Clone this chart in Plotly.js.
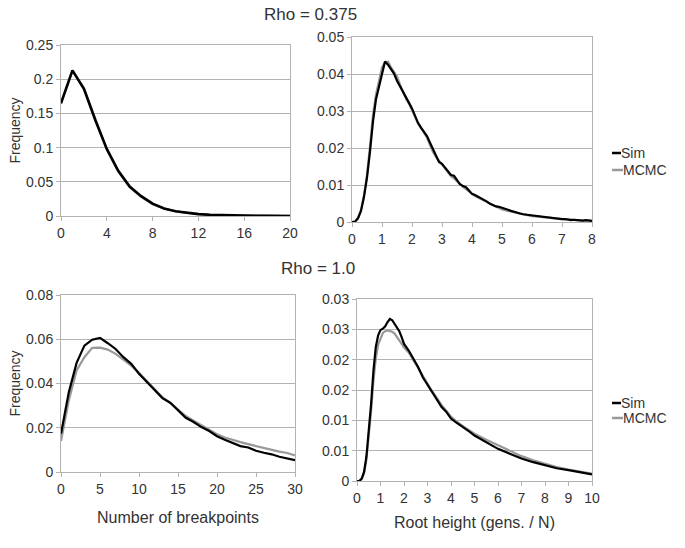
<!DOCTYPE html>
<html>
<head>
<meta charset="utf-8">
<script src="https://cdn.plot.ly/plotly-3.0.1.min.js"></script>
<style>html,body{margin:0;padding:0;background:#fff;}#chart{width:685px;height:548px;}</style>
</head>
<body>
<div id="chart"></div>
<script>
// ---- Rho = 0.375 : number of breakpoints ----
const bp375X = [0,1,2,3,4,5,6,7,8,9,10,11,12,13,14,15,16,17,18,19,20];
const bp375Sim = [0.165,0.213,0.186,0.140,0.098,0.066,0.043,0.029,0.018,0.011,0.007,0.0045,0.0027,0.0018,0.0012,0.0008,0.0004,0.0003,0.0002,0.0002,0.0001];
const bp375Mcmc = [0.164,0.212,0.187,0.141,0.097,0.065,0.042,0.028,0.017,0.011,0.007,0.0044,0.0026,0.0017,0.0011,0.0007,0.0004,0.0003,0.0002,0.0001,0.0001];

// ---- Rho = 0.375 : root height ----
const rh375X = [0,0.1,0.2,0.3,0.4,0.5,0.6,0.7,0.8,0.9,1.0,1.1,1.2,1.3,1.4,1.5,1.6,1.7,1.8,1.9,2.0,2.1,2.2,2.3,2.4,2.5,2.6,2.7,2.8,2.9,3.0,3.1,3.2,3.3,3.4,3.5,3.6,3.7,3.8,3.9,4.0,4.1,4.2,4.3,4.4,4.5,4.6,4.7,4.8,4.9,5.0,5.1,5.2,5.3,5.4,5.5,5.6,5.7,5.8,5.9,6.0,6.1,6.2,6.3,6.4,6.5,6.6,6.7,6.8,6.9,7.0,7.1,7.2,7.3,7.4,7.5,7.6,7.7,7.8,7.9,8.0];
const rh375Sim = [0,0.0001,0.001,0.003,0.0068,0.012,0.019,0.0272,0.0332,0.0366,0.0405,0.0434,0.0425,0.0413,0.0401,0.0382,0.0366,0.0353,0.0335,0.0322,0.0307,0.0288,0.0268,0.0255,0.0244,0.0232,0.0214,0.0198,0.0178,0.0162,0.0157,0.0148,0.0136,0.0127,0.0125,0.0112,0.0102,0.0097,0.0094,0.0085,0.0076,0.0073,0.0069,0.0063,0.0061,0.0055,0.0049,0.0045,0.0042,0.0041,0.0039,0.0035,0.0033,0.0030,0.0027,0.0026,0.0023,0.0021,0.0020,0.0019,0.0017,0.0016,0.0015,0.0013,0.0012,0.0012,0.0011,0.0010,0.0009,0.0009,0.0008,0.0008,0.0006,0.0005,0.0006,0.0005,0.0004,0.0004,0.0005,0.0003,0.0003];
const rh375Mcmc = [0,0.0001,0.0011,0.0033,0.0072,0.0128,0.0205,0.029,0.0345,0.0385,0.0418,0.0432,0.0433,0.0418,0.0405,0.0393,0.0372,0.0352,0.0333,0.032,0.0303,0.0285,0.0266,0.0254,0.024,0.0228,0.0208,0.0189,0.0176,0.0165,0.0155,0.0145,0.0134,0.0124,0.0118,0.011,0.0101,0.0095,0.0089,0.0083,0.0075,0.007,0.0066,0.0062,0.0058,0.0053,0.0048,0.0044,0.0041,0.0037,0.0034,0.0032,0.0030,0.0028,0.0026,0.0024,0.0022,0.0021,0.0019,0.0018,0.0016,0.0015,0.0014,0.0013,0.0012,0.0011,0.001,0.001,0.0009,0.0008,0.0008,0.0007,0.0007,0.0006,0.0006,0.0005,0.0005,0.0004,0.0004,0.0004,0.0003];

// ---- Rho = 1.0 : number of breakpoints ----
const bp10X = [0,1,2,3,4,5,6,7,8,9,10,11,12,13,14,15,16,17,18,19,20,21,22,23,24,25,26,27,28,29,30];
const bp10Sim = [0.0173,0.036,0.0493,0.0571,0.0598,0.0606,0.0582,0.0556,0.0519,0.0489,0.0444,0.0406,0.0368,0.0334,0.0313,0.0278,0.0245,0.0226,0.0203,0.0185,0.0162,0.0146,0.0132,0.0117,0.0111,0.0096,0.0087,0.008,0.0069,0.0062,0.0054];
const bp10Mcmc = [0.014,0.0323,0.0459,0.0519,0.0561,0.0562,0.0553,0.0534,0.0508,0.0481,0.0448,0.041,0.0373,0.0338,0.0313,0.0283,0.0253,0.0232,0.0211,0.0192,0.0171,0.0156,0.0144,0.0135,0.0126,0.0117,0.0107,0.0099,0.0092,0.0086,0.0075];

// ---- Rho = 1.0 : root height ----
const rh10X = [0,0.1,0.2,0.3,0.4,0.5,0.6,0.7,0.8,0.9,1.0,1.1,1.2,1.3,1.4,1.5,1.6,1.7,1.8,1.9,2.0,2.2,2.4,2.6,2.8,3.0,3.2,3.4,3.6,3.8,4.0,4.2,4.4,4.6,4.8,5.0,5.5,6.0,6.5,7.0,7.5,8.0,8.5,9.0,9.5,10];
const rh10Sim = [0,0,0.0004,0.0015,0.004,0.0078,0.0127,0.0182,0.0221,0.024,0.0249,0.0251,0.0255,0.0262,0.0267,0.0265,0.0259,0.0254,0.0247,0.0237,0.0226,0.0215,0.0202,0.0188,0.0171,0.0159,0.0147,0.0136,0.0122,0.0114,0.0103,0.0097,0.0092,0.0086,0.0081,0.0075,0.0064,0.0053,0.0045,0.0037,0.0031,0.0026,0.0021,0.0018,0.0014,0.0011];
const rh10Mcmc = [0,0,0.0003,0.0013,0.0035,0.007,0.0115,0.0165,0.0202,0.0225,0.0236,0.0244,0.0247,0.0248,0.0247,0.0246,0.0243,0.0238,0.0232,0.0226,0.022,0.0212,0.0199,0.0186,0.0173,0.0159,0.0148,0.0137,0.0125,0.0116,0.0106,0.0099,0.0093,0.0088,0.0083,0.0078,0.0068,0.0059,0.0051,0.0041,0.0034,0.0028,0.0023,0.0019,0.0015,0.0012];

// tick labels for the bottom-right y axis (values rounded to 2 decimals, as in the source)
const rh10YTickVals = [0,0.005,0.01,0.015,0.02,0.025,0.03];
const rh10YTickText = ["0","0.01","0.01","0.02","0.02","0.03","0.03"];

const seriesNames = ["Sim","MCMC"];
const simColor = "#000000";
const mcmcColor = "#999999";

const W = 685, H = 548;
const px = v => v / W;
const py = v => 1 - v / H;

function tr(x, y, name, color, width, xa, ya) {
  return {x: x, y: y, name: name, type: "scatter", mode: "lines",
          line: {color: color, width: width, shape: "linear"},
          xaxis: xa, yaxis: ya, showlegend: false, hoverinfo: "x+y"};
}

const data = [
  tr(bp375X, bp375Mcmc, seriesNames[1], mcmcColor, 2.2, "x", "y"),
  tr(bp375X, bp375Sim, seriesNames[0], simColor, 2.6, "x", "y"),
  tr(rh375X, rh375Mcmc, seriesNames[1], mcmcColor, 2.2, "x2", "y2"),
  tr(rh375X, rh375Sim, seriesNames[0], simColor, 2.2, "x2", "y2"),
  tr(bp10X, bp10Mcmc, seriesNames[1], mcmcColor, 2.2, "x3", "y3"),
  tr(bp10X, bp10Sim, seriesNames[0], simColor, 2.2, "x3", "y3"),
  tr(rh10X, rh10Mcmc, seriesNames[1], mcmcColor, 2.2, "x4", "y4"),
  tr(rh10X, rh10Sim, seriesNames[0], simColor, 2.2, "x4", "y4")
];

const fontFam = "Liberation Sans, Arial, sans-serif";
const txtColor = "#333333";
const gridColor = "#b3b3b3";

function xax(domain, range, dtick, anchor, title, standoff) {
  const a = {domain: domain, range: range, dtick: dtick, tick0: 0, anchor: anchor,
    showgrid: false, zeroline: false, showline: true, linecolor: gridColor, linewidth: 1,
    mirror: true, ticks: "outside", ticklen: 4, tickcolor: gridColor,
    tickfont: {family: fontFam, size: 14, color: txtColor}, fixedrange: true};
  if (title) a.title = {text: title, font: {family: fontFam, size: 16, color: txtColor}, standoff: standoff};
  return a;
}
function yax(domain, range, anchor, title, extra) {
  const a = Object.assign({domain: domain, range: range, anchor: anchor,
    showgrid: true, gridcolor: gridColor, gridwidth: 1, zeroline: false,
    showline: true, linecolor: gridColor, linewidth: 1, mirror: true,
    ticks: "outside", ticklen: 4, tickcolor: gridColor,
    tickfont: {family: fontFam, size: 14, color: txtColor}, fixedrange: true}, extra || {});
  if (title) a.title = {text: title, font: {family: fontFam, size: 14, color: txtColor}, standoff: 2};
  return a;
}

const layout = {
  width: W, height: H,
  margin: {l: 0, r: 0, t: 0, b: 0},
  paper_bgcolor: "#ffffff", plot_bgcolor: "#ffffff",
  showlegend: false,
  font: {family: fontFam, color: txtColor},
  xaxis: xax([px(61), px(290)], [0, 20], 4, "y", null),
  yaxis: yax([py(216), py(45)], [0, 0.25], "x", "Frequency", {dtick: 0.05, tick0: 0}),
  xaxis2: xax([px(352), px(592)], [0, 8], 1, "y2", null),
  yaxis2: yax([py(222), py(37)], [0, 0.05], "x2", null, {dtick: 0.01, tick0: 0}),
  xaxis3: xax([px(61), px(295)], [0, 30], 5, "y3", "Number of breakpoints", 16),
  yaxis3: yax([py(472), py(295)], [0, 0.08], "x3", "Frequency", {dtick: 0.02, tick0: 0}),
  xaxis4: xax([px(357), px(592)], [0, 10], 1, "y4", "Root height (gens. / N)", 12),
  yaxis4: yax([py(481), py(299)], [0, 0.03], "x4", null, {tickmode: "array", tickvals: rh10YTickVals, ticktext: rh10YTickText}),
  annotations: [
    {text: "Rho = 0.375", xref: "paper", yref: "paper", x: px(310), y: py(15), showarrow: false,
     xanchor: "center", yanchor: "middle", font: {family: fontFam, size: 17, color: txtColor}},
    {text: "Rho = 1.0", xref: "paper", yref: "paper", x: px(318), y: py(268), showarrow: false,
     xanchor: "center", yanchor: "middle", font: {family: fontFam, size: 17, color: txtColor}},
    {text: seriesNames[0], xref: "paper", yref: "paper", x: px(619), y: py(153), showarrow: false,
     xanchor: "left", yanchor: "middle", font: {family: fontFam, size: 14, color: txtColor}},
    {text: seriesNames[1], xref: "paper", yref: "paper", x: px(621), y: py(170), showarrow: false,
     xanchor: "left", yanchor: "middle", font: {family: fontFam, size: 14, color: txtColor}},
    {text: seriesNames[0], xref: "paper", yref: "paper", x: px(619), y: py(403), showarrow: false,
     xanchor: "left", yanchor: "middle", font: {family: fontFam, size: 14, color: txtColor}},
    {text: seriesNames[1], xref: "paper", yref: "paper", x: px(621), y: py(418), showarrow: false,
     xanchor: "left", yanchor: "middle", font: {family: fontFam, size: 14, color: txtColor}}
  ],
  shapes: [
    {type: "line", xref: "paper", yref: "paper", x0: px(612), x1: px(621), y0: py(153), y1: py(153), line: {color: simColor, width: 2.5}},
    {type: "line", xref: "paper", yref: "paper", x0: px(612), x1: px(623), y0: py(170), y1: py(170), line: {color: mcmcColor, width: 2.5}},
    {type: "line", xref: "paper", yref: "paper", x0: px(612), x1: px(621), y0: py(403), y1: py(403), line: {color: simColor, width: 2.5}},
    {type: "line", xref: "paper", yref: "paper", x0: px(612), x1: px(623), y0: py(418), y1: py(418), line: {color: mcmcColor, width: 2.5}}
  ]
};

Plotly.newPlot("chart", data, layout, {displayModeBar: false, staticPlot: true});
</script>
</body>
</html>
